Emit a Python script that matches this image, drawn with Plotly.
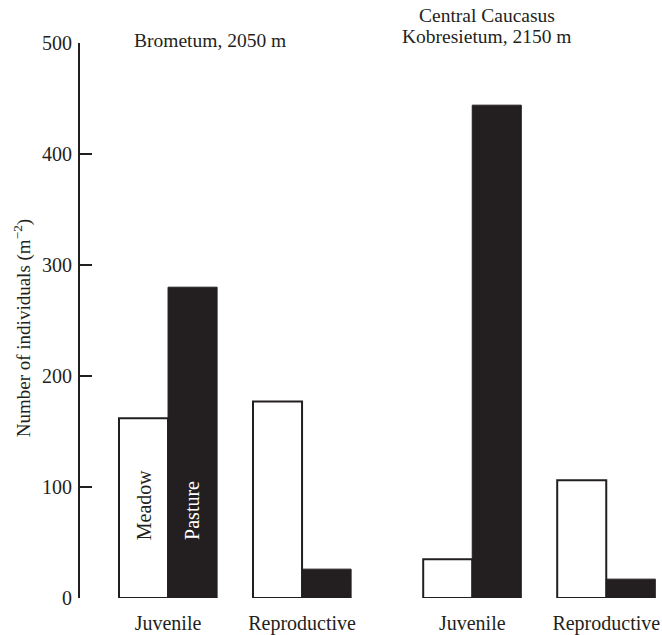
import plotly.graph_objects as go

# Life-stage categories for the two communities
stages = ["Juvenile", "Reproductive", "Juvenile", "Reproductive"]
# Horizontal slots of each category (second community shifted right)
slots = [0, 1, 2.27, 3.27]

meadow = [162, 177, 35, 106]
pasture = [280, 26, 444, 17]

INK = "#231f20"
FONT = "Liberation Serif, serif"

fig = go.Figure()
fig.add_trace(go.Bar(
    x=slots, y=meadow, name="Meadow",
    marker=dict(color="white", line=dict(color=INK, width=2)),
))
fig.add_trace(go.Bar(
    x=slots, y=pasture, name="Pasture",
    marker=dict(color=INK, line=dict(color=INK, width=1)),
))

annotations = [
    dict(x=slots[0] - 0.183, y=84, text="Meadow", textangle=-90, showarrow=False,
         font=dict(size=20, color=INK, family=FONT)),
    dict(x=slots[0] + 0.183, y=79, text="Pasture", textangle=-90, showarrow=False,
         font=dict(size=20, color="white", family=FONT)),
    dict(x=0.313, y=1.005, yref="paper", text="Brometum, 2050 m", showarrow=False,
         xanchor="center", yanchor="middle", font=dict(size=19.5, color=INK, family=FONT)),
    dict(x=2.381, y=1.050, yref="paper", text="Central Caucasus", showarrow=False,
         xanchor="center", yanchor="middle", font=dict(size=19.5, color=INK, family=FONT)),
    dict(x=2.381, y=1.011, yref="paper", text="Kobresietum, 2150 m", showarrow=False,
         xanchor="center", yanchor="middle", font=dict(size=19.5, color=INK, family=FONT)),
    # y-axis title placed as an annotation so it can sit slightly below centre
    dict(x=-0.0997, y=0.486, xref="paper", yref="paper",
         text="Number of individuals (m<sup>−2</sup>)", textangle=-90, showarrow=False,
         xanchor="center", yanchor="middle", font=dict(size=19, color=INK, family=FONT)),
]

fig.update_layout(
    width=662, height=635,
    margin=dict(l=80, r=0, t=43, b=37),
    paper_bgcolor="white", plot_bgcolor="white",
    barmode="group", bargap=0.268, bargroupgap=0,
    showlegend=False,
    font=dict(family=FONT, size=19, color=INK),
    annotations=annotations,
    xaxis=dict(
        range=[-0.657, 3.686],
        tickvals=slots, ticktext=stages,
        showline=False, showgrid=False, zeroline=False, ticks="",
        ticklabelstandoff=11,
        tickfont=dict(size=20, family=FONT, color=INK),
    ),
    yaxis=dict(
        range=[0, 500],
        tickvals=[0, 100, 200, 300, 400, 500],
        showline=True, linecolor=INK, linewidth=2.2,
        ticks="inside", ticklen=12, tickwidth=2.2, tickcolor=INK,
        showgrid=False, zeroline=False,
        ticklabelstandoff=2,
        tickfont=dict(size=20, family=FONT, color=INK),
    ),
)

fig.write_html("out.html")
